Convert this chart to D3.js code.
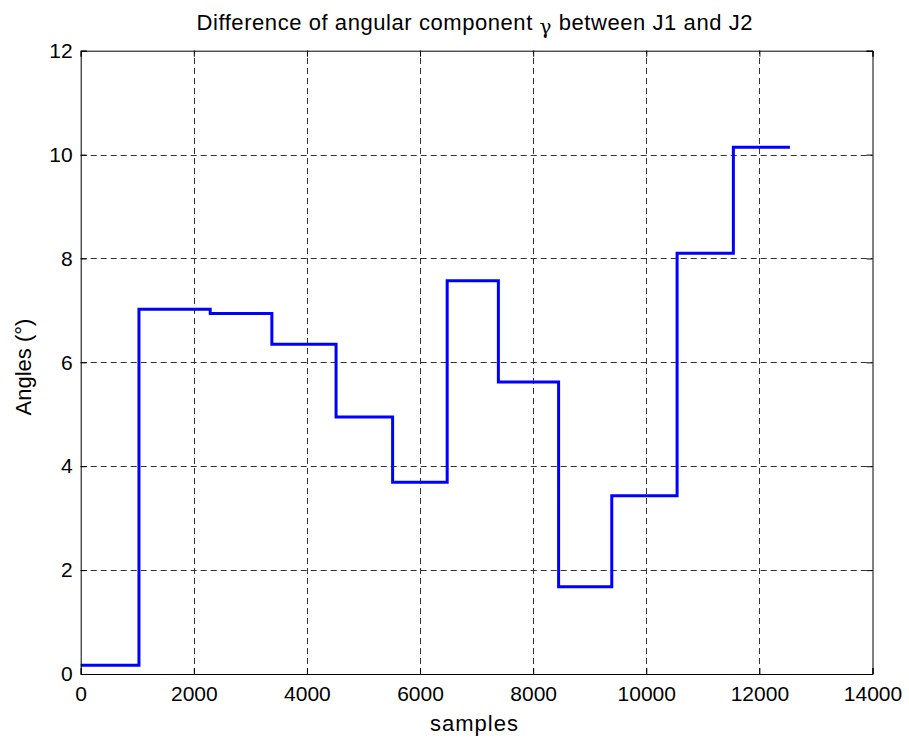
<!DOCTYPE html>
<html>
<head>
<meta charset="utf-8">
<script src="https://cdn.jsdelivr.net/npm/d3@7"></script>
<style>
  html, body { margin: 0; padding: 0; background: #fff; }
  svg { display: block; font-family: "Liberation Sans", Arial, Helvetica, sans-serif; }
</style>
</head>
<body>
<svg id="chart" width="909" height="738"></svg>
<script>
// Step boundaries (sample index where each level starts) and the level held from there
const stepStarts = [0, 1030, 2290, 3380, 4515, 5515, 6480, 7385, 8450, 9390, 10545, 11540];
const stepLevels = [0.17, 7.02, 6.94, 6.35, 4.95, 3.69, 7.57, 5.62, 1.68, 3.43, 8.10, 10.14];
const lastSample = 12540;

const xTicks = [0, 2000, 4000, 6000, 8000, 10000, 12000, 14000];
const yTicks = [0, 2, 4, 6, 8, 10, 12];

const svg = d3.select("#chart");
const W = 909, H = 738;
const margin = { left: 80.7, right: W - 872.5, top: 50.7, bottom: H - 674 };

const x = d3.scaleLinear().domain([0, 14000]).range([margin.left, W - margin.right]);
const y = d3.scaleLinear().domain([0, 12]).range([H - margin.bottom, margin.top]);

const x0 = x.range()[0], x1 = x.range()[1];
const y0 = y.range()[0], y1 = y.range()[1];

// dashed grid
const grid = svg.append("g").attr("stroke", "#333").attr("stroke-width", 1)
  .attr("stroke-dasharray", "6,4").attr("fill", "none");
xTicks.slice(1, -1).forEach(t => {
  grid.append("line").attr("x1", Math.round(x(t)) + 0.5).attr("x2", Math.round(x(t)) + 0.5)
    .attr("y1", y0).attr("y2", y1);
});
yTicks.slice(1, -1).forEach(t => {
  grid.append("line").attr("y1", Math.round(y(t)) + 0.5).attr("y2", Math.round(y(t)) + 0.5)
    .attr("x1", x0).attr("x2", x1);
});

// data as points for a step-after line
const pts = stepStarts.map((s, i) => [s, stepLevels[i]]);
pts.push([lastSample, stepLevels[stepLevels.length - 1]]);

const line = d3.line().x(d => x(d[0])).y(d => y(d[1])).curve(d3.curveStepAfter);
svg.append("path").datum(pts).attr("d", line)
  .attr("fill", "none").attr("stroke", "#0000ff").attr("stroke-width", 3)
  .attr("stroke-linejoin", "miter");

// axes with inward ticks, box on all four sides
const tickLen = 6;
const axB = d3.axisBottom(x).tickValues(xTicks).tickSize(-tickLen).tickPadding(12).tickFormat(d3.format("d"));
const axT = d3.axisTop(x).tickValues(xTicks).tickSize(-tickLen).tickFormat("");
const axL = d3.axisLeft(y).tickValues(yTicks).tickSize(-tickLen).tickPadding(8).tickFormat(d3.format("d"));
const axR = d3.axisRight(y).tickValues(yTicks).tickSize(-tickLen).tickFormat("");

function style(g) {
  g.select(".domain").attr("stroke", "#000").attr("stroke-width", 1);
  g.selectAll(".tick line").attr("stroke", "#000");
  g.selectAll(".tick text").attr("fill", "#000").attr("font-size", 21)
    .attr("font-family", "'Liberation Sans', Arial, sans-serif");
}
svg.append("g").attr("transform", `translate(0,${y0})`).call(axB).call(style)
  .selectAll(".tick text").attr("dy", "0.71em");
svg.append("g").attr("transform", `translate(0,${y1})`).call(axT).call(style);
svg.append("g").attr("transform", `translate(${x0},0)`).call(axL).call(style);
svg.append("g").attr("transform", `translate(${x1},0)`).call(axR).call(style);

// title
const title = svg.append("text").attr("x", 474.5).attr("y", 29.5)
  .attr("text-anchor", "middle").attr("font-size", 22).attr("fill", "#000")
  .attr("textLength", 556).attr("lengthAdjust", "spacing");
title.append("tspan").text("Difference of angular component ");
title.append("tspan").text("γ").attr("font-family", "'DejaVu Serif', serif").attr("font-size", 20).attr("dy", 4);
title.append("tspan").text(" between J1 and J2").attr("dy", -4);

// axis labels
svg.append("text").attr("x", 474).attr("y", 731)
  .attr("text-anchor", "middle").attr("font-size", 22).attr("fill", "#000")
  .attr("textLength", 88).attr("lengthAdjust", "spacing").text("samples");
svg.append("text").attr("transform", `translate(30.5,367) rotate(-90)`)
  .attr("text-anchor", "middle").attr("font-size", 22).attr("fill", "#000").text("Angles (°)");
</script>
</body>
</html>
